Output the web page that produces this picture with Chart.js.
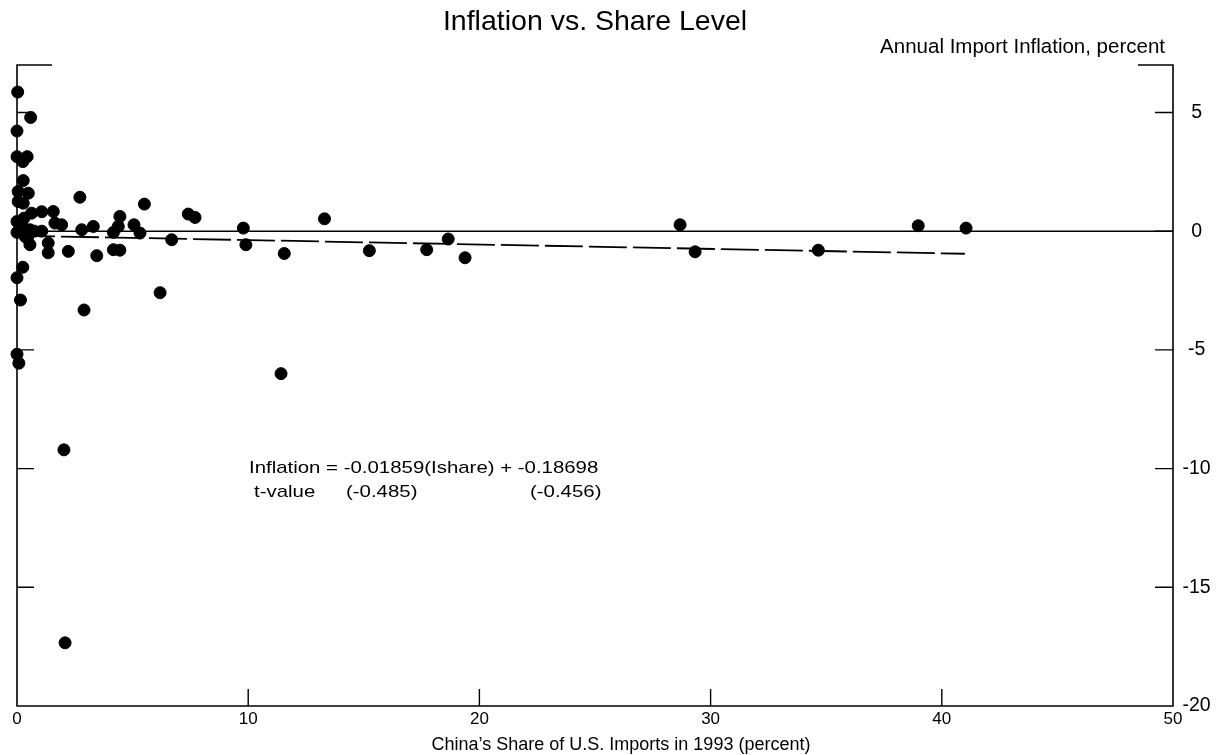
<!DOCTYPE html>
<html>
<head>
<meta charset="utf-8">
<script src="https://cdn.jsdelivr.net/npm/chart.js@4/dist/chart.umd.min.js"></script>
<style>
  html, body { margin: 0; padding: 0; background: #ffffff; }
  #wrap { width: 1224px; height: 755px; position: relative; }
</style>
</head>
<body>
<div id="wrap"><canvas id="c" width="1224" height="755"></canvas></div>
<script>
// ---- Data ----
const chartTitle = "Inflation vs. Share Level";
const yAxisTitle = "Annual Import Inflation, percent";
const xAxisTitle = "China\u2019s Share of U.S. Imports in 1993 (percent)";
const equationLine1 = "Inflation = -0.01859(Ishare) + -0.18698";
const equationTLabel = "t-value";
const equationT1 = "(-0.485)";
const equationT2 = "(-0.456)";

// China's share of U.S. imports (percent)
const shareX = [
  0.03, 0.59, 0.00, 0.00, 0.44, 0.25, 0.27, 0.05, 0.49, 0.05,
  0.27, 0.63, 1.07, 1.57, 0.00, 1.64, 1.93, 0.00, 0.56, 1.07,
  0.35, 0.56, 1.35, 1.35, 2.22, 3.45, 2.80, 3.30, 2.72, 0.25,
  0.00, 0.15, 2.90, 0.00, 0.08, 2.03, 2.08, 0.20, 0.45, 0.15,
  0.75, 0.30,
  4.45, 4.38, 4.17, 5.06, 5.32, 6.69, 4.17, 4.45, 5.51, 7.41,
  7.70, 9.79, 9.90, 11.56, 13.30, 6.19, 11.42, 15.24, 17.72, 18.65,
  19.38, 28.68, 29.33, 34.66, 38.98, 41.05
];
// Annual import inflation (percent)
const inflationY = [
  5.86, 4.79, 4.22, 3.14, 3.14, 2.93, 2.13, 1.67, 1.60, 1.25,
  1.18, 0.76, 0.82, 0.83, 0.41, 0.34, 0.27, -0.05, 0.06, 0.00,
  -0.22, -0.57, -0.50, -0.91, -0.85, -1.03, 0.06, 0.20, 1.43, -1.52,
  -1.96, -2.90, -3.32, -5.18, -5.56, -9.21, -17.34, 0.30, -0.30, 0.10,
  0.00, 0.55,
  0.62, 0.20, -0.05, 0.27, -0.08, -0.36, -0.78, -0.80, 1.14, 0.72,
  0.58, 0.13, -0.57, -0.94, 0.52, -2.59, -6.00, -0.82, -0.78, -0.33,
  -1.12, 0.27, -0.87, -0.80, 0.23, 0.13
];
// Fitted regression line end points
const fitX = [0, 41.0];
const fitY = [-0.19, -0.95];
// Zero reference line
const zeroX = [0, 50];
const zeroY = [0, 0];
// Axis ticks
const xTickValues = [0, 10, 20, 30, 40, 50];
const yTickValues = [5, 0, -5, -10, -15, -20];
const xMin = 0, xMax = 50, yMin = -20, yMax = 7;

const REG = "'Liberation Sans', Arial, Helvetica, sans-serif";

const toPts = (xs, ys) => xs.map((x, i) => ({ x: x, y: ys[i] }));

function stretchedText(ctx, text, x, y, sx) {
  ctx.save();
  ctx.translate(x, y);
  ctx.scale(sx, 1);
  ctx.fillText(text, 0, 0);
  ctx.restore();
}

const framePlugin = {
  id: 'frame',
  afterDatasetsDraw(chart) {
    const { ctx, chartArea: a, scales } = chart;
    const xs = scales.x, ys = scales.y;
    const L = a.left, R = a.right, T = a.top, B = a.bottom;
    ctx.save();
    ctx.strokeStyle = '#000';
    ctx.lineWidth = 1.6;
    ctx.lineCap = 'butt';
    ctx.beginPath();
    ctx.moveTo(L + 35, T); ctx.lineTo(L, T); ctx.lineTo(L, B);
    ctx.lineTo(R, B);
    ctx.lineTo(R, T); ctx.lineTo(R - 35, T);
    ctx.stroke();
    ctx.lineWidth = 1.4;
    ctx.beginPath();
    yTickValues.forEach(v => {
      const py = ys.getPixelForValue(v);
      if (py <= T + 1 || py >= B - 1) return;
      ctx.moveTo(L, py); ctx.lineTo(L + 17, py);
      ctx.moveTo(R, py); ctx.lineTo(R - 18, py);
    });
    xTickValues.forEach(v => {
      const px = xs.getPixelForValue(v);
      if (px <= L + 1 || px >= R - 1) return;
      ctx.moveTo(px, B); ctx.lineTo(px, B - 17);
    });
    ctx.stroke();

    ctx.fillStyle = '#000';
    ctx.textBaseline = 'middle';
    ctx.textAlign = 'center';
    ctx.font = '28.5px ' + REG;
    ctx.fillText(chartTitle, 595, 22);
    ctx.textAlign = 'right';
    ctx.font = '20.5px ' + REG;
    ctx.fillText(yAxisTitle, 1165, 47);
    ctx.textAlign = 'center';
    ctx.font = '18px ' + REG;
    ctx.fillText(xAxisTitle, 621, 745);

    ctx.textAlign = 'left';
    ctx.font = '17px ' + REG;
    stretchedText(ctx, equationLine1, 249, 468, 1.2);
    stretchedText(ctx, equationTLabel, 254, 492, 1.2);
    stretchedText(ctx, equationT1, 346, 492, 1.2);
    stretchedText(ctx, equationT2, 530, 492, 1.2);
    ctx.restore();
  }
};

new Chart(document.getElementById('c'), {
  type: 'scatter',
  data: {
    datasets: [
      {
        type: 'line',
        label: 'zero',
        data: toPts(zeroX, zeroY),
        borderColor: '#000',
        borderWidth: 1.6,
        pointRadius: 0,
        fill: false,
        order: 3
      },
      {
        type: 'line',
        label: 'fit',
        data: toPts(fitX, fitY),
        borderColor: '#000',
        borderWidth: 1.8,
        borderDash: [38, 6],
        pointRadius: 0,
        fill: false,
        order: 2
      },
      {
        label: 'points',
        data: toPts(shareX, inflationY),
        backgroundColor: '#000',
        borderColor: '#000',
        pointRadius: 6,
        pointHoverRadius: 6,
        clip: false,
        order: 1
      }
    ]
  },
  options: {
    responsive: false,
    animation: false,
    events: [],
    layout: { padding: { left: 17, top: 65, right: 0, bottom: 0 } },
    plugins: {
      legend: { display: false },
      title: { display: false },
      tooltip: { enabled: false }
    },
    scales: {
      x: {
        type: 'linear',
        position: 'bottom',
        min: xMin, max: xMax,
        afterBuildTicks: s => { s.ticks = xTickValues.map(v => ({ value: v })); },
        afterFit: s => { s.height = 49; },
        grid: { display: false, drawTicks: false },
        border: { display: false },
        ticks: {
          color: '#000',
          font: { family: REG, size: 17 },
          padding: 3,
          maxRotation: 0,
          autoSkip: false
        }
      },
      y: {
        type: 'linear',
        position: 'right',
        min: yMin, max: yMax,
        afterBuildTicks: s => { s.ticks = yTickValues.map(v => ({ value: v })); },
        afterFit: s => { s.width = 51; },
        grid: { display: false, drawTicks: false },
        border: { display: false },
        ticks: {
          color: '#000',
          font: { family: REG, size: 19.5 },
          padding: 9.5,
          crossAlign: 'center',
          autoSkip: false
        }
      }
    }
  },
  plugins: [framePlugin]
});
</script>
</body>
</html>
